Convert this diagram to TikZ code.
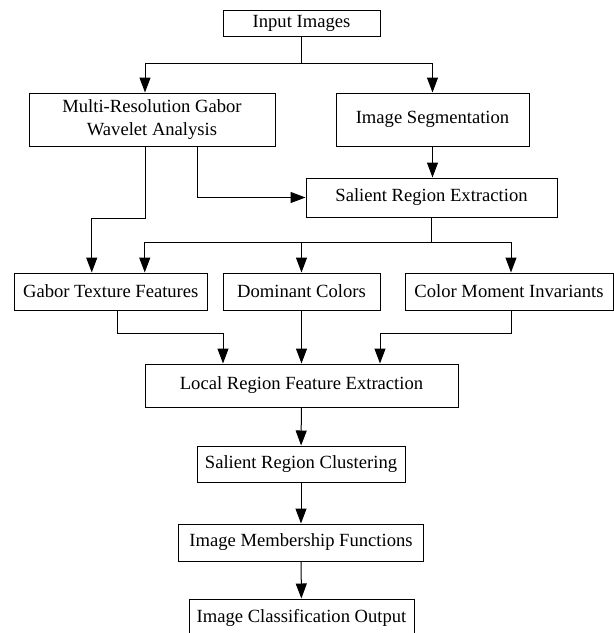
\documentclass[tikz,border=0pt]{standalone}
\usepackage{fontspec}
\setmainfont{Liberation Serif}
\usepackage{tikz}
\usetikzlibrary{arrows.meta, positioning}
\tikzset{
  box/.style={draw, line width=1pt, inner sep=0pt, align=center,
    font=\fontsize{18.6}{23}\selectfont},
  arr/.style={-{Triangle[length=15pt,width=11pt]}, line width=1pt}
}

\begin{document}
\begin{tikzpicture}[x=1pt,y=-1pt]
            \useasboundingbox (0,0) rectangle (614,633);

            % Draw the boxes
            \node[box, minimum width=157pt, minimum height=26pt] (input) at (301.5,23) {Input Images};
            \node[box, minimum width=246pt, minimum height=53pt] (gaborwav) at (152,119.5) {Multi-Resolution Gabor\\Wavelet Analysis};
            \node[box, minimum width=193pt, minimum height=53pt] (segment) at (432.5,119.5) {Image Segmentation};
            \node[box, minimum width=251pt, minimum height=39pt] (salient) at (431.5,197.5) {Salient Region Extraction};
            \node[box, minimum width=193.5pt, minimum height=37pt] (texture) at (110.75,291.5) {Gabor Texture Features};
            \node[box, minimum width=157pt, minimum height=37pt] (dominant) at (301.5,291.5) {Dominant Colors};
            \node[box, minimum width=208pt, minimum height=37pt] (moment) at (509,291.5) {Color Moment Invariants};
            \node[box, minimum width=313pt, minimum height=43pt] (localfeat) at (301.5,385.5) {Local Region Feature Extraction};
            \node[box, minimum width=208pt, minimum height=36pt] (cluster) at (301,464) {Salient Region Clustering};
            \node[box, minimum width=245.5pt, minimum height=37pt] (member) at (301,542.5) {Image Membership Functions};
            \node[box, minimum width=225pt, minimum height=37pt] (output) at (301.5,617.5) {Image Classification Output};

            % Draw the split below the input
            \draw[line width=1pt] (input.south) -- ++(0,27) coordinate (split1);
            \draw[arr] (split1) -| ([xshift=-7pt]gaborwav.north);
            \draw[arr] (split1) -| (segment.north);

            % Connect the upper part
            \draw[arr] (segment.south) -- (segment.south |- salient.north);
            \draw[arr] ([xshift=45pt]gaborwav.south) |- (salient.west);
            \draw[arr] ([xshift=-7pt]gaborwav.south) -- ++(0,72) -| ([xshift=-19pt]texture.north);

            % Draw the split below the salient regions
            \draw[line width=1pt] (salient.south) -- ++(0,25) coordinate (split2);
            \draw[arr] (split2) -| ([xshift=34pt]texture.north);
            \draw[arr] (split2) -| (dominant.north);
            \draw[arr] (split2) -| ([xshift=2pt]moment.north);

            % Merge the features
            \draw[arr] ([xshift=7pt]texture.south) -- ++(0,23) -| ([xshift=-78.5pt]localfeat.north);
            \draw[arr] (dominant.south) -- (localfeat.north);
            \draw[arr] ([xshift=2pt]moment.south) -- ++(0,23) -| ([xshift=78.5pt]localfeat.north);

            % Draw the chain at the bottom
            \draw[arr] (localfeat) -- (cluster);
            \draw[arr] (cluster) -- (member);
            \draw[arr] (member) -- (output);
        \end{tikzpicture}
\end{document}
